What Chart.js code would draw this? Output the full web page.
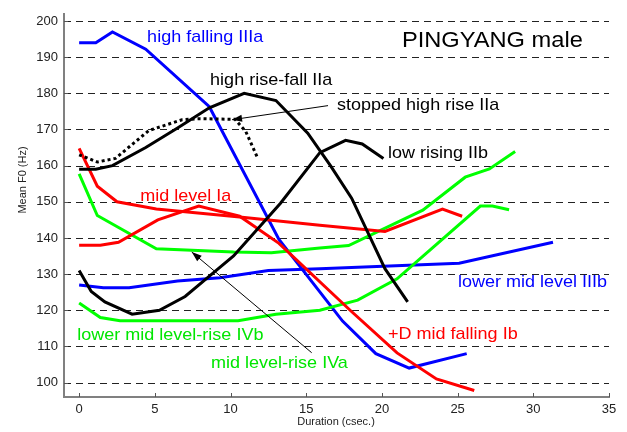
<!DOCTYPE html>
<html>
<head>
<meta charset="utf-8">
<title>PINGYANG male</title>
<script src="https://cdn.jsdelivr.net/npm/chart.js@4/dist/chart.umd.min.js"></script>
<style>
  html, body { margin: 0; padding: 0; background: #fff; }
  canvas { display: block; }
</style>
</head>
<body>
<canvas id="f0" width="627" height="432"></canvas>
<script>
// Mean F0 contours (Hz) against duration (csec.), points as [duration, F0]
const highFallingIIIa = [[0,194],[1.1,194],[2.2,197],[4.4,192.2],[8.6,176.3],[13.2,139.6],[17.4,117],[19.6,108],[21.8,104],[25.6,108]];
const lowerMidLevelIIIb = [[0,127],[1.6,126.2],[3.3,126.2],[6.5,128.1],[9.3,129],[12.5,131],[15.9,131.5],[25.1,133],[31.3,138.8]];
const highRiseFallIIa = [[0,159],[1.1,159],[2.2,160],[4.4,165],[6.5,170.4],[8.6,176],[10.9,180],[13,178],[15.1,169],[16.6,160],[18,151],[20.2,131.5],[21.7,122.3]];
const stoppedHighRiseIIa = [[0,163],[1.2,161],[2.4,162],[4.6,169.7],[6.8,172.7],[8,173],[10.3,172.8],[11,169.5],[11.8,162]];
const lowRisingIIb = [[0,131],[0.8,125.2],[1.7,122.3],[3.5,118.9],[5.3,120],[7,123.8],[8.9,130.5],[10.2,135],[13.3,149.6],[15.9,163.6],[17.6,167],[18.7,166],[20.1,162]];
const midLevelIa = [[0,164.8],[1.2,154.3],[2.5,150],[5.1,148],[10.6,145.8],[15.9,143.5],[20.2,141.8],[24,148],[25.3,146]];
const midFallingIb = [[0,138],[1.4,138],[2.6,138.8],[5.2,145],[7.9,148.8],[10.6,146],[13.2,138.5],[17.9,120],[21,108.2],[23.6,101],[26.1,97.8]];
const midLevelRiseIVa = [[0,157.7],[1.2,146.2],[5.1,137],[10.2,136.1],[12.7,135.9],[15.9,137.2],[17.8,137.9],[22.7,147.7],[25.5,156.8],[27.1,159.1],[28.8,163.9]];
const lowerMidLevelRiseIVb = [[0,122],[1.4,118],[2.7,117.1],[10.5,117.1],[13,118.9],[15.9,120],[18.4,122.8],[21,128.7],[26.5,148.8],[27.3,148.8],[28.4,147.8]];

// Axis ticks
const xTicks = [0, 5, 10, 15, 20, 25, 30, 35];
const yTicks = [100, 110, 120, 130, 140, 150, 160, 170, 180, 190, 200];

// Tone labels: text, anchor (duration, F0) at left edge / vertical middle, colour
const labelTexts = ['high falling IIIa', 'PINGYANG male', 'high rise-fall IIa', 'stopped high rise IIa', 'low rising IIb', 'mid level Ia', 'lower mid level IIIb', '+D mid falling Ib', 'lower mid level-rise IVb', 'mid level-rise IVa'];
const labelX = [4.49, 21.32, 8.65, 17.03, 20.4, 4.03, 25.02, 20.4, -0.13, 8.71];
const labelY = [195.6, 194.5, 183.6, 176.8, 163.4, 151.5, 127.8, 113.3, 113.1, 105.2];
const labelColors = ['#0000ff', '#000000', '#000000', '#000000', '#000000', '#ff0000', '#0000ff', '#ff0000', '#00e600', '#00e600'];

// Pointer arrows: [fromX, fromY, toX, toY] in data units
const arrows = [[16.44, 176.6, 10.1, 172.7], [15.36, 108.25, 7.44, 136.1]];

const FONT = '"Liberation Sans", Arial, Helvetica, sans-serif';
const toPts = a => a.map(p => ({ x: p[0], y: p[1] }));

function series(data, color, dashed) {
  return {
    data: toPts(data),
    borderColor: color,
    backgroundColor: color,
    borderWidth: 3,
    borderDash: dashed ? [3, 3] : [],
    pointRadius: 0,
    tension: 0,
    fill: false
  };
}

const overlay = {
  id: 'overlay',
  beforeDatasetsDraw(chart) {
    const { ctx, scales: { x, y } } = chart;
    ctx.save();
    ctx.strokeStyle = '#222';
    ctx.lineWidth = 1;
    ctx.setLineDash([7, 5]);
    yTicks.forEach(v => {
      const py = Math.round(y.getPixelForValue(v)) + 0.5;
      ctx.beginPath();
      ctx.moveTo(x.left, py);
      ctx.lineTo(x.right, py);
      ctx.stroke();
    });
    ctx.restore();
  },
  afterDraw(chart) {
    const { ctx, scales: { x, y } } = chart;
    ctx.save();
    // inward tick marks
    ctx.strokeStyle = '#555';
    ctx.lineWidth = 1;
    ctx.setLineDash([]);
    xTicks.forEach(v => {
      const px = Math.round(x.getPixelForValue(v)) + 0.5;
      ctx.beginPath();
      ctx.moveTo(px, y.bottom);
      ctx.lineTo(px, y.bottom - 4);
      ctx.stroke();
    });
    yTicks.forEach(v => {
      const py = Math.round(y.getPixelForValue(v)) + 0.5;
      ctx.beginPath();
      ctx.moveTo(x.left, py);
      ctx.lineTo(x.left + 4, py);
      ctx.stroke();
    });

    // arrows
    ctx.strokeStyle = '#000';
    ctx.fillStyle = '#000';
    arrows.forEach(a => {
      const x1 = x.getPixelForValue(a[0]), y1 = y.getPixelForValue(a[1]);
      const x2 = x.getPixelForValue(a[2]), y2 = y.getPixelForValue(a[3]);
      const ang = Math.atan2(y2 - y1, x2 - x1);
      ctx.lineWidth = 1;
      ctx.beginPath();
      ctx.moveTo(x1, y1);
      ctx.lineTo(x2, y2);
      ctx.stroke();
      const L = 10, W = 3.5;
      ctx.beginPath();
      ctx.moveTo(x2, y2);
      ctx.lineTo(x2 - L * Math.cos(ang) + W * Math.sin(ang), y2 - L * Math.sin(ang) - W * Math.cos(ang));
      ctx.lineTo(x2 - L * Math.cos(ang) - W * Math.sin(ang), y2 - L * Math.sin(ang) + W * Math.cos(ang));
      ctx.closePath();
      ctx.fill();
    });

    // tone labels (slightly widened lettering)
    ctx.textAlign = 'left';
    ctx.textBaseline = 'middle';
    labelTexts.forEach((t, i) => {
      const big = i === 1;
      ctx.save();
      ctx.translate(x.getPixelForValue(labelX[i]), y.getPixelForValue(labelY[i]));
      ctx.scale(big ? 1.1 : 1.06, 1);
      ctx.font = (big ? '21.5px ' : '17px ') + FONT;
      ctx.fillStyle = labelColors[i];
      ctx.fillText(t, 0, 0);
      ctx.restore();
    });

    // axis titles
    ctx.fillStyle = '#222';
    ctx.font = '11px ' + FONT;
    ctx.textAlign = 'center';
    ctx.fillText('Duration (csec.)', 336, 422);
    ctx.translate(23, 180);
    ctx.rotate(-Math.PI / 2);
    ctx.fillText('Mean F0 (Hz)', 0, 0);
    ctx.restore();
  }
};

new Chart(document.getElementById('f0'), {
  type: 'line',
  data: {
    datasets: [
      series(highRiseFallIIa, '#000000'),
      series(lowRisingIIb, '#000000'),
      series(stoppedHighRiseIIa, '#000000', true),
      series(midLevelIa, '#ff0000'),
      series(midFallingIb, '#ff0000'),
      series(midLevelRiseIVa, '#00ff00'),
      series(lowerMidLevelRiseIVb, '#00ff00'),
      series(lowerMidLevelIIIb, '#0000ff'),
      series(highFallingIIIa, '#0000ff')
    ]
  },
  options: {
    responsive: false,
    devicePixelRatio: 1,
    animation: false,
    layout: { padding: { left: 0, right: 18, top: 8, bottom: 0 } },
    plugins: { legend: { display: false }, tooltip: { enabled: false } },
    scales: {
      x: {
        type: 'linear',
        min: -1,
        max: 35,
        afterBuildTicks: s => { s.ticks = xTicks.map(v => ({ value: v })); },
        afterFit: s => { s.height = 35; },
        grid: { display: false, drawTicks: false },
        border: { display: true, color: '#808080', width: 2 },
        ticks: { color: '#222', font: { family: FONT, size: 13 }, padding: 5, maxRotation: 0 }
      },
      y: {
        type: 'linear',
        min: 96,
        max: 202,
        afterBuildTicks: s => { s.ticks = yTicks.map(v => ({ value: v })); },
        afterFit: s => { s.width = 64; },
        grid: { display: false, drawTicks: false },
        border: { display: true, color: '#808080', width: 2 },
        ticks: { color: '#222', font: { family: FONT, size: 13 }, padding: 6 }
      }
    }
  },
  plugins: [overlay]
});
</script>
</body>
</html>
